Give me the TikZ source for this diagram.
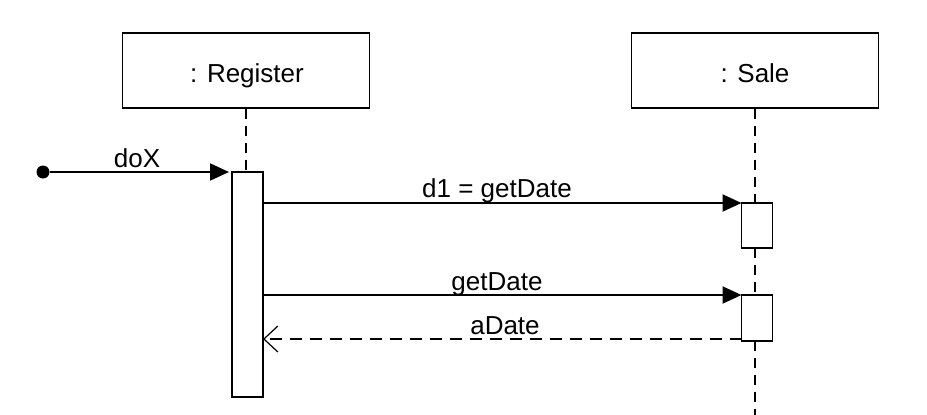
\documentclass[tikz,border=0pt]{standalone}
\usepackage{fontspec}
\setmainfont{Liberation Sans}
\usetikzlibrary{arrows.meta}

\begin{document}
\begin{tikzpicture}[x=1pt, y=-1pt, line width=1.5pt,
    font=\fontsize{26}{30}\selectfont,
    objbox/.style={rectangle, draw, minimum width=247pt, minimum height=75pt, inner sep=0pt},
    actbar/.style={rectangle, draw, fill=white, minimum width=31pt, inner sep=0pt, outer sep=0pt},
    lifeline/.style={dashed, line width=1.8pt, dash pattern=on 10pt off 7pt},
    msg/.style={line width=2pt, -{Triangle[length=19pt, width=17pt]}},
    reply/.style={line width=1.8pt, dash pattern=on 12pt off 8pt, -{Straight Barb[length=14pt, width=26pt, line width=1.2pt]}},
    lbl/.style={anchor=base, inner sep=0pt}]
            \useasboundingbox (0,0) rectangle (927,415);

            \node[objbox] (reg) at (246,70.5) {};
            \node[objbox] (sale) at (755,70.5) {};
            \node[lbl] (regText) at (247,82) {: Register};
            \node[lbl] (saleText) at (755,82) {: Sale};

            \draw[lifeline] (reg.south) -- (reg.south |- 0,172);
            \node[actbar, minimum height=225pt] (regAct) at (247.5,284.5) {};
            \node[actbar, minimum height=45pt] (saleAct1) at (757,225.5) {};
            \node[actbar, minimum height=46pt] (saleAct2) at (757,318) {};
            \node[circle, fill, inner sep=0pt, minimum size=13pt] (start) at (43,172) {};
            \coordinate (saleEnd) at (755,415);
            \coordinate (replyStart) at ([yshift=2pt]saleAct2.south west);

            \draw[lifeline] (sale.south) -- (sale.south |- saleAct1.north);
            \draw[lifeline] (sale.south |- saleAct1.south) -- (sale.south |- saleAct2.north);
            \draw[lifeline] (sale.south |- saleAct2.south) -- (saleEnd);

            \draw[msg] (start) -- ([xshift=-3pt]start -| regAct.west);
            \draw[msg] (regAct.east |- saleAct1.north) -- (saleAct1.north west);
            \draw[msg] (regAct.east |- saleAct2.north) -- (saleAct2.north west);
            \draw[reply] (replyStart) -- (regAct.east |- replyStart);

            \node[lbl] (doX) at (137,167) {doX};
            \node[lbl] (d1) at (497,197) {d1 = getDate};
            \node[lbl] (getD) at (497,290) {getDate};
            \node[lbl] (aDate) at (505,334) {aDate};
        \end{tikzpicture}
\end{document}
